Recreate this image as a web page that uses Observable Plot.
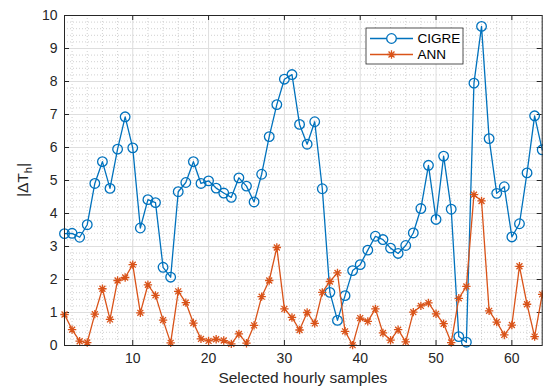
<!DOCTYPE html>
<html><head><meta charset="utf-8">
<script src="https://cdn.jsdelivr.net/npm/d3@7"></script>
<script src="https://cdn.jsdelivr.net/npm/@observablehq/plot@0.6"></script>
<style>
body{margin:0;background:#fff;}
#chart{position:relative;width:543px;height:387px;}
</style></head><body><div id="chart"></div>
<script>
// ---- data ----
const samples = d3.range(1, 65);
const cigre = [3.39,3.40,3.28,3.66,4.91,5.57,4.76,5.95,6.93,5.99,
               3.56,4.42,4.33,2.37,2.07,4.66,4.94,5.57,4.91,4.99,
               4.77,4.62,4.49,5.08,4.83,4.35,5.19,6.33,7.30,8.07,
               8.21,6.70,6.10,6.78,4.75,1.61,0.76,1.51,2.27,2.45,
               2.89,3.31,3.21,2.95,2.79,3.03,3.41,4.15,5.46,3.82,
               5.74,4.13,0.27,0.10,7.95,9.67,6.27,4.61,4.81,3.29,
               3.69,5.23,6.96,5.93];
const ann = [0.94,0.48,0.13,0.09,0.95,1.72,0.79,1.97,2.06,2.45,
             0.99,1.84,1.52,0.77,0.08,1.64,1.30,0.68,0.20,0.14,
             0.19,0.15,0.05,0.35,0.07,0.61,1.48,1.97,2.97,1.11,
             0.85,0.47,1.00,0.67,1.61,1.94,2.20,0.43,0.01,0.83,
             0.73,1.11,0.38,0.16,0.48,0.11,1.01,1.20,1.29,0.96,
             0.66,0.09,1.43,1.79,4.57,4.38,1.05,0.71,0.32,0.62,
             2.40,1.25,0.27,1.55];
const seriesNames = ["CIGRE", "ANN"];
const seriesColors = ["#0072BD", "#D95319"];
const xTicks = [10, 20, 30, 40, 50, 60];
const yTicks = [0, 1, 2, 3, 4, 5, 6, 7, 8, 9, 10];
const xLabel = "Selected hourly samples";

// ---- build table ----
const rows = [
  ...samples.map((s, i) => ({sample: s, value: cigre[i], series: seriesNames[0]})),
  ...samples.map((s, i) => ({sample: s, value: ann[i], series: seriesNames[1]}))
];
const xMinor = d3.range(2, 65, 2).filter(v => v % 10 !== 0);
const yMinor = d3.range(0, 50).map(i => i / 5).filter(v => Math.abs(v - Math.round(v)) > 1e-6);

const W = 543, H = 387, mL = 64, mR = 1.3, mT = 15, mB = 42;
const innerH = H - mT - mB, innerW = W - mL - mR;
const tickLen = 5;
const ink = "#262626";

const asterisk8 = {
  draw(ctx, size) {
    const r = Math.sqrt(size / Math.PI), d = r * Math.SQRT1_2;
    ctx.moveTo(-r, 0); ctx.lineTo(r, 0);
    ctx.moveTo(0, -r); ctx.lineTo(0, r);
    ctx.moveTo(-d, -d); ctx.lineTo(d, d);
    ctx.moveTo(-d, d); ctx.lineTo(d, -d);
  }
};

const plot = Plot.plot({
  width: W, height: H,
  marginLeft: mL, marginRight: mR, marginTop: mT, marginBottom: mB,
  style: {fontFamily: "'Liberation Sans', Arial, sans-serif", fontSize: "14px", color: ink, background: "white", overflow: "visible"},
  x: {domain: [1, 64], ticks: xTicks, tickSize: 0, tickPadding: 8, label: null},
  y: {domain: [0, 10], ticks: yTicks, tickSize: 0, tickPadding: 7, label: null},
  color: {domain: seriesNames, range: seriesColors},
  marks: [
    Plot.ruleY(yMinor, {stroke: "#bdbdbd", strokeWidth: 0.7, strokeDasharray: "1,2"}),
    Plot.ruleX(xMinor, {stroke: "#bdbdbd", strokeWidth: 0.7, strokeDasharray: "1,2"}),
    Plot.ruleY(yTicks, {stroke: "#dedede", strokeWidth: 1}),
    Plot.ruleX(xTicks, {stroke: "#dedede", strokeWidth: 1}),
    // inward tick marks
    Plot.tickX(xTicks, {x: d => d, stroke: ink, strokeWidth: 1, insetTop: innerH - tickLen}),
    Plot.tickX(xTicks, {x: d => d, stroke: ink, strokeWidth: 1, insetBottom: innerH - tickLen}),
    Plot.tickY(yTicks, {y: d => d, stroke: ink, strokeWidth: 1, insetRight: innerW - tickLen}),
    Plot.tickY(yTicks, {y: d => d, stroke: ink, strokeWidth: 1, insetLeft: innerW - tickLen}),
    // CIGRE
    Plot.line(rows.filter(d => d.series === seriesNames[0]), {x: "sample", y: "value", stroke: seriesColors[0], strokeWidth: 1.3}),
    Plot.dot(rows.filter(d => d.series === seriesNames[0]), {x: "sample", y: "value", r: 4.8, stroke: seriesColors[0], strokeWidth: 1.3, fill: "none"}),
    // ANN
    Plot.line(rows.filter(d => d.series === seriesNames[1]), {x: "sample", y: "value", stroke: seriesColors[1], strokeWidth: 1.3}),
    Plot.dot(rows.filter(d => d.series === seriesNames[1]), {x: "sample", y: "value", r: 4.2, symbol: asterisk8, stroke: seriesColors[1], strokeWidth: 1.3, fill: "none"}),
    Plot.frame({stroke: ink, strokeWidth: 1})
  ]
});
document.getElementById("chart").appendChild(plot);

// ---- axis titles and legend ----
const svg = d3.select(plot);
const font = "'Liberation Sans', Arial, sans-serif";
svg.append("text")
  .attr("x", mL + innerW / 2).attr("y", 383)
  .attr("text-anchor", "middle")
  .attr("font-family", font).attr("font-size", 15.5).attr("fill", ink)
  .text(xLabel);

const yl = svg.append("text")
  .attr("transform", `translate(28,${mT + innerH / 2}) rotate(-90)`)
  .attr("text-anchor", "middle")
  .attr("font-family", font).attr("font-size", 15.5).attr("fill", ink);
yl.append("tspan").text("|\u0394T");
yl.append("tspan").attr("font-size", 11).attr("dy", 4).text("h");
yl.append("tspan").attr("dy", -4).text("|");

const lg = svg.append("g").attr("text-anchor", "start");
lg.append("rect").attr("x", 366).attr("y", 28).attr("width", 97).attr("height", 36)
  .attr("fill", "white").attr("stroke", ink).attr("stroke-width", 0.8);
const entryY = [38.5, 54.5];
seriesNames.forEach((name, i) => {
  const y = entryY[i];
  lg.append("line").attr("x1", 370).attr("x2", 413).attr("y1", y).attr("y2", y)
    .attr("stroke", seriesColors[i]).attr("stroke-width", 1.3);
  if (i === 0) {
    lg.append("circle").attr("cx", 391.5).attr("cy", y).attr("r", 4.8)
      .attr("fill", "white").attr("stroke", seriesColors[i]).attr("stroke-width", 1.3);
  } else {
    const p = d3.path(); asterisk8.draw(p, 4.2 * 4.2 * Math.PI);
    lg.append("path").attr("d", p.toString()).attr("transform", `translate(391.5,${y})`)
      .attr("stroke", seriesColors[i]).attr("stroke-width", 1.3).attr("fill", "none");
  }
  lg.append("text").attr("x", 417.5).attr("y", y).attr("dy", "0.35em")
    .attr("text-anchor", "start")
    .attr("font-family", font).attr("font-size", 13.5).attr("fill", "#000").text(name);
});
</script>
</body></html>
